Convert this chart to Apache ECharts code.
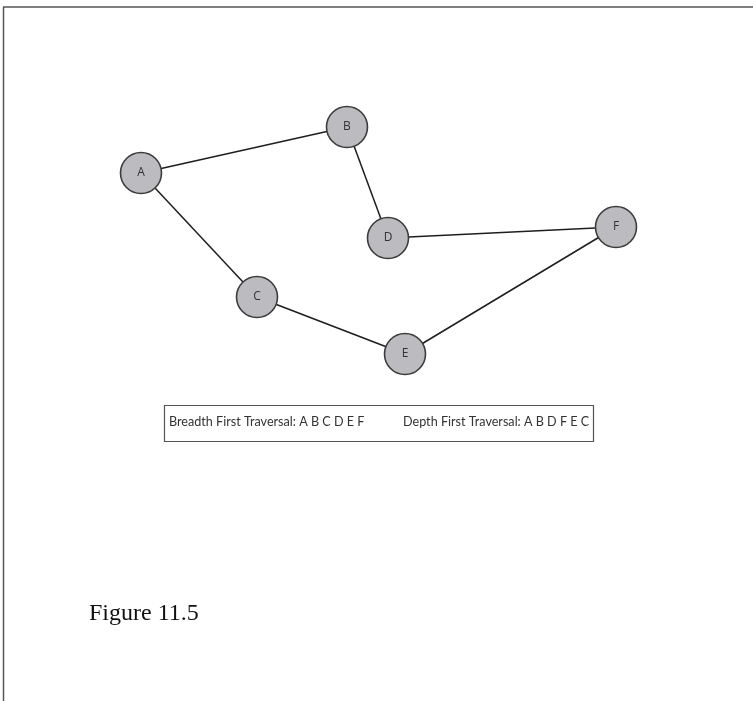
<!DOCTYPE html>
<html>
<head>
<meta charset="utf-8">
<script src="https://cdn.jsdelivr.net/npm/echarts@6/dist/echarts.min.js"></script>
<style>
    html, body { margin:0; padding:0; background:#fff; }
    #main { width:753px; height:701px; }
</style>
</head>
<body>
<div id="main"></div>
<script>
// 节点和边
const nodeNames = ['A', 'B', 'C', 'D', 'E', 'F']
const nodeX = [141, 347, 257, 388, 405, 616]
const nodeY = [173, 127, 297, 238, 354, 227]
const edges = [['A', 'B'], ['B', 'D'], ['D', 'F'], ['A', 'C'], ['C', 'E'], ['E', 'F']]
const bfsText = 'Breadth First Traversal: A B C D E F'
const dfsText = 'Depth First Traversal: A B D F E C'
const figTitle = 'Figure 11.5'

let chart = echarts.init(document.getElementById('main'))

let nodes = nodeNames.map((n, i) => ({ name: n, value: [nodeX[i], nodeY[i]] }))
let links = edges.map(e => ({ source: e[0], target: e[1] }))

let option = {
    backgroundColor: '#fff',
    animation: false,
    title: {
        text: figTitle,
        left: 84,
        top: 597,
        textStyle: {
            fontFamily: 'Liberation Serif',
            fontWeight: 'normal',
            fontSize: 24,
            color: '#111'
        }
    },
    grid: { left: 0, right: 0, top: 0, bottom: 0 },
    xAxis: { type: 'value', min: 0, max: 753, show: false },
    yAxis: { type: 'value', min: 0, max: 701, inverse: true, show: false },
    graphic: [
        // 外框（上、左）
        { type: 'line', shape: { x1: 3, y1: 7, x2: 753, y2: 7 }, style: { stroke: '#555', lineWidth: 1.5 } },
        { type: 'line', shape: { x1: 3.5, y1: 7, x2: 3.5, y2: 701 }, style: { stroke: '#555', lineWidth: 1.5 } },
        // 遍历说明框
        { type: 'rect', shape: { x: 164.5, y: 405.5, width: 429, height: 36 }, style: { fill: '#fff', stroke: '#555', lineWidth: 1.2 } },
        { type: 'text', left: 169, top: 415, style: { text: bfsText, fontFamily: 'Lato', fontSize: 12.6, fill: '#333' } },
        { type: 'text', left: 403, top: 415, style: { text: dfsText, fontFamily: 'Lato', fontSize: 12.6, fill: '#333' } }
    ],
    series: [{
        type: 'graph',
        coordinateSystem: 'cartesian2d',
        symbol: 'circle',
        symbolSize: 41,
        data: nodes,
        links: links,
        itemStyle: {
            color: '#bcbbc0',
            borderColor: '#3c3c3c',
            borderWidth: 1.6
        },
        label: {
            show: true,
            position: 'inside',
            formatter: '{b}',
            fontFamily: 'Open Sans',
            fontSize: 12,
            color: '#333'
        },
        lineStyle: {
            color: '#1e1e1e',
            width: 1.5,
            opacity: 1
        },
        emphasis: { disabled: true }
    }]
}
chart.setOption(option)
</script>
</body>
</html>
